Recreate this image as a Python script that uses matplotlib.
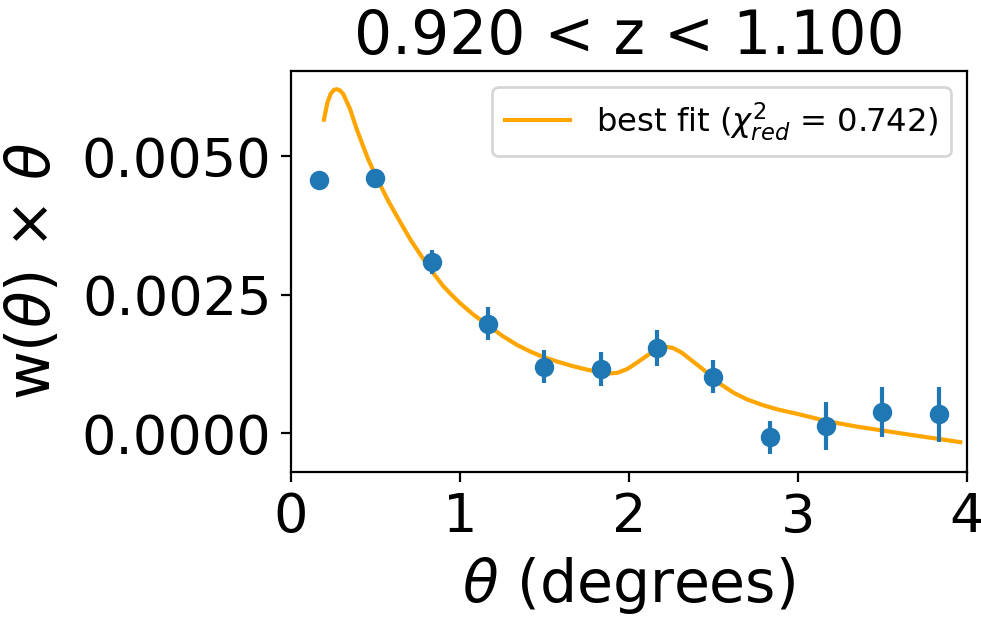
import numpy as np
import matplotlib
matplotlib.use("Agg")
import matplotlib.pyplot as plt

# measured points (bin centres, w(theta) x theta, errors)
theta = [0.167, 0.5, 0.833, 1.167, 1.5, 1.833, 2.167, 2.5, 2.833, 3.167, 3.5, 3.833]
wtheta = [0.00457, 0.00461, 0.00309, 0.00198, 0.00120, 0.00116, 0.00154, 0.00102,
          -0.00007, 0.00013, 0.00038, 0.00034]
werr = [0.00004, 0.00005, 0.00022, 0.00030, 0.00030, 0.00030, 0.00032, 0.00030,
        0.00030, 0.00044, 0.00045, 0.00050]

# best-fit curve
fit_x = [0.195, 0.215, 0.235, 0.255, 0.272, 0.29, 0.31, 0.35, 0.39, 0.456, 0.515,
         0.58, 0.645, 0.71, 0.78, 0.84, 0.90, 0.95, 1.0, 1.08, 1.166, 1.25, 1.34, 1.42,
         1.49, 1.58, 1.67, 1.75, 1.83, 1.88, 1.93, 1.99, 2.05, 2.12, 2.18, 2.22, 2.26,
         2.31, 2.39, 2.44, 2.54, 2.62, 2.70, 2.79, 2.88, 3.01, 3.17, 3.35, 3.50,
         3.67, 3.83, 3.96]
fit_y = [0.00566, 0.00596, 0.00613, 0.00620, 0.00621, 0.00619, 0.00612, 0.00585,
         0.00548, 0.00495, 0.00456, 0.00417, 0.00382, 0.00348, 0.00316, 0.00290,
         0.00266, 0.00250, 0.00235, 0.00214, 0.00195, 0.00176, 0.00159, 0.00147,
         0.00138, 0.00129, 0.00121, 0.00115, 0.00110, 0.00108, 0.00109, 0.00116,
         0.00128, 0.00143, 0.00153, 0.00156, 0.00154, 0.00146, 0.00127, 0.00115,
         0.00089, 0.00073, 0.00061, 0.00051, 0.00043, 0.00034, 0.00022, 0.00012,
         0.00005, -0.00003, -0.00010, -0.00016]

chi2_red = 0.742
title = "0.920 < z < 1.100"

fig = plt.figure(figsize=(4.905, 3.085), dpi=200)
ax = fig.add_axes([0.2966, 0.235, 0.6891, 0.6499])

ax.plot(fit_x, fit_y, color="orange", lw=1.5,
        label=r"best fit ($\chi^2_{red}$ = %.3f)" % chi2_red)
ax.errorbar(theta, wtheta, yerr=werr, fmt="o", color="#1f77b4", ms=6, elinewidth=1.5)

ax.set_xlim(0, 4)
ax.set_xticks([0, 1, 2, 3, 4])
ax.set_yticks([0.0, 0.0025, 0.005])
ax.set_yticklabels(["0.0000", "0.0025", "0.0050"])
ax.tick_params(labelsize=19.5)
ax.set_xlabel(r"$\theta$ (degrees)", fontsize=21)
ax.set_ylabel(r"w($\theta$) $\times$ $\theta$", fontsize=21.5)
ax.yaxis.set_label_coords(-0.337, 0.5)
ax.set_title(title, fontsize=21.5)
ax.legend(loc="upper right", fontsize=11.6)

fig.savefig("out.png", dpi=200)
